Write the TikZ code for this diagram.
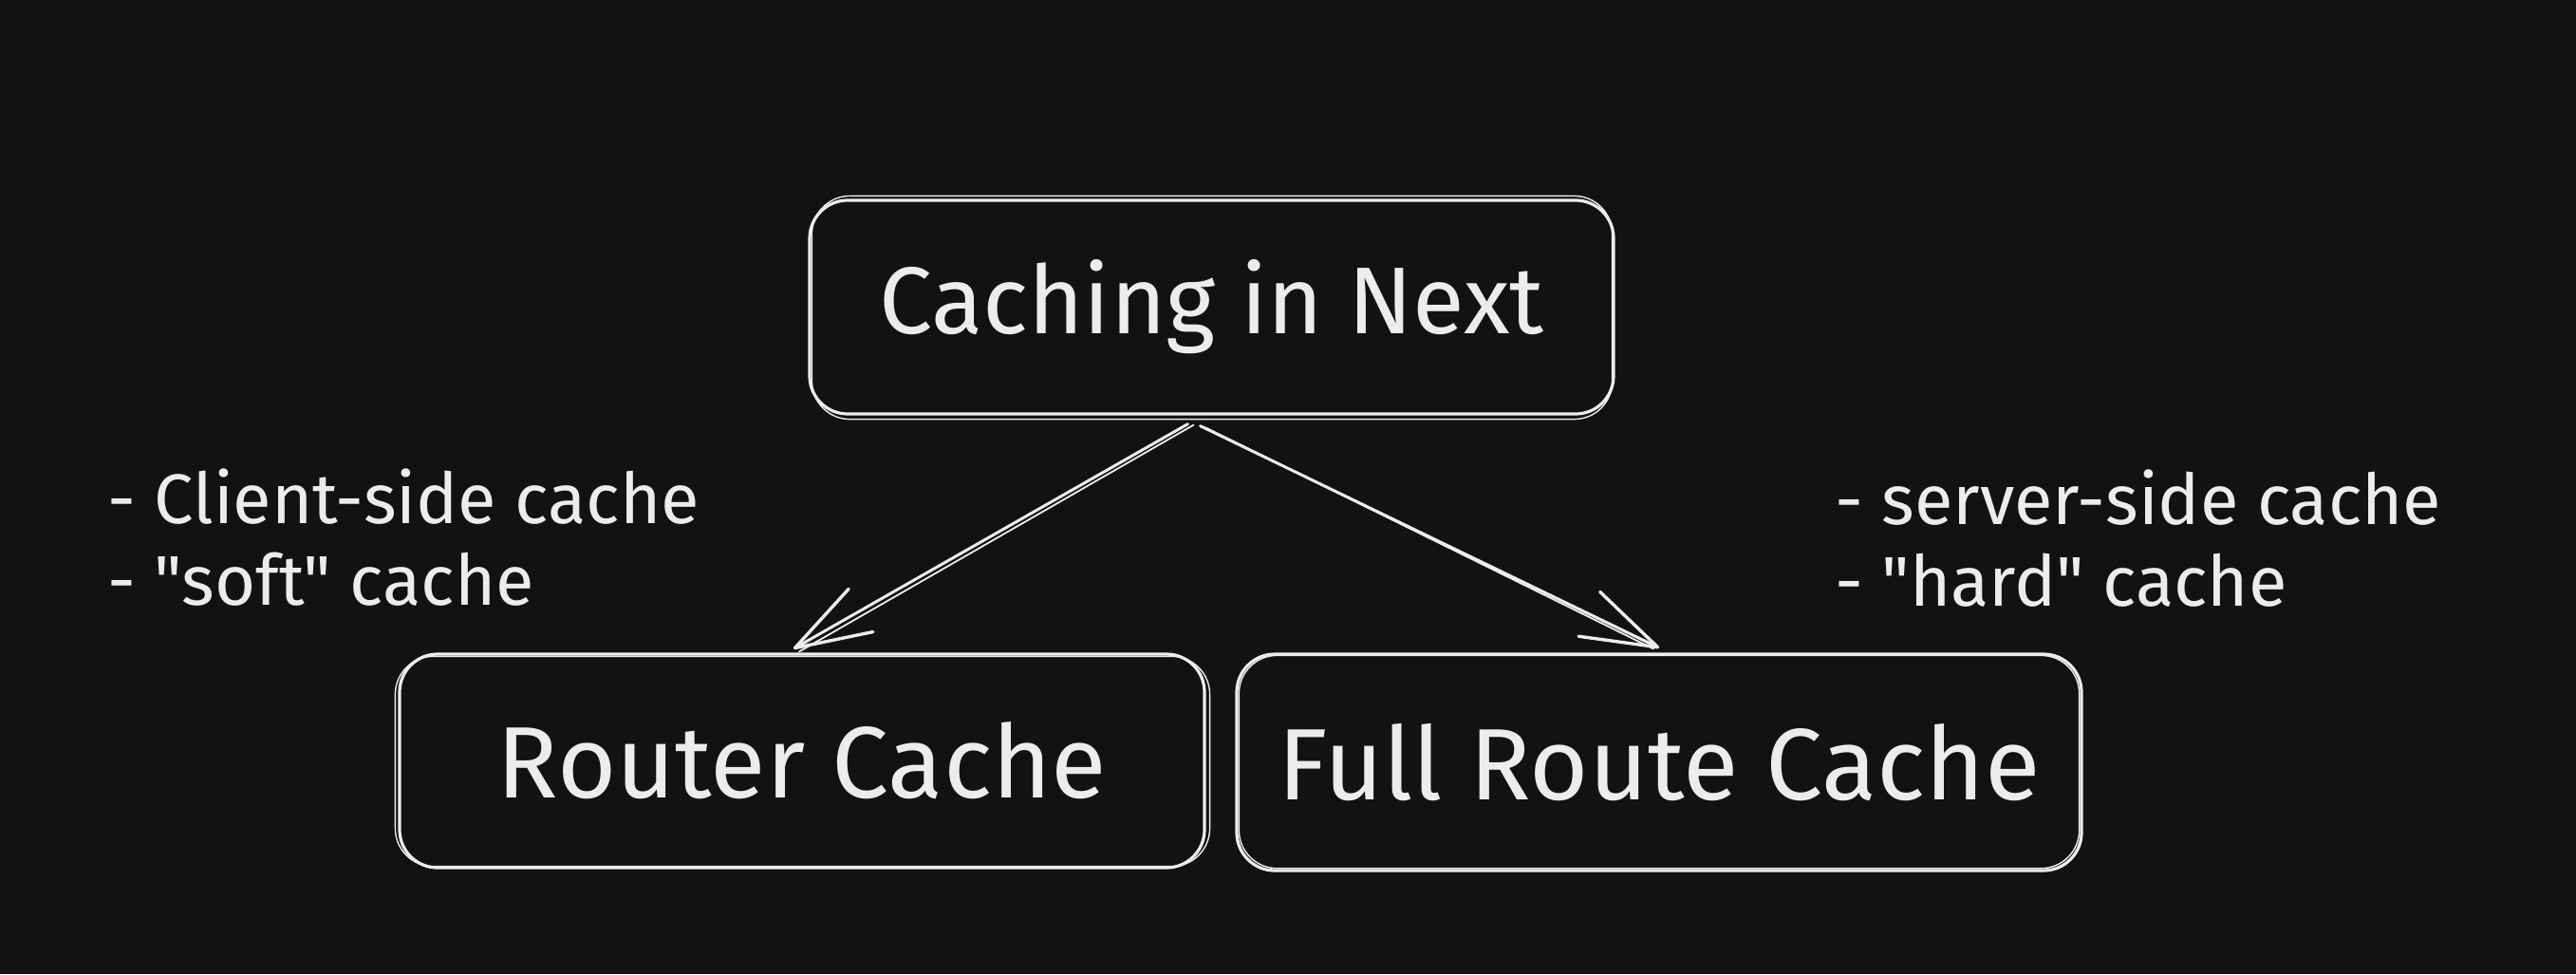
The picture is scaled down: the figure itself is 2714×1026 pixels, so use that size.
\documentclass[tikz,border=0pt]{standalone}
\usepackage{fontspec}
\setmainfont{Fira Sans}[Ligatures=TeXOff]
\usetikzlibrary{arrows.meta,calc}
\definecolor{bgc}{HTML}{121212}
\definecolor{ink}{HTML}{ECECEC}
\begin{document}
\begin{tikzpicture}[x=1pt,y=-1pt,
  box/.style={draw=ink,line width=3.2pt,rounded corners=40pt,text=ink,align=center,inner sep=0pt},
  sketch/.style={draw=ink,line width=1.4pt,rounded corners=40pt},
  sidenote/.style={text=ink,anchor=west,align=left,inner sep=0pt,font=\fontsize{74}{86}\selectfont},
  link/.style={draw=ink,line width=3pt,line cap=round,-{Straight Barb[length=80pt,width=52pt,line width=3.4pt,round]}},
  linkb/.style={draw=ink,line width=1.8pt,line cap=round}
]
\fill[bgc] (0,0) rectangle (2714,1026);
\useasboundingbox (0,0) rectangle (2714,1026);

\node[box,minimum width=847pt,minimum height=225pt,font=\fontsize{100}{110}\selectfont] (top) at (1276.5,323.5) {Caching in Next};
\node[box,minimum width=848pt,minimum height=225pt,font=\fontsize{107}{110}\selectfont] (router) at (845,801.5) {Router Cache};
\node[box,minimum width=890pt,minimum height=228pt,font=\fontsize{107}{110}\selectfont] (full) at (1748,803) {Full Route Cache};

% sketchy second strokes
\draw[sketch] ([xshift=4pt,yshift=3pt]top.north west) rectangle ([xshift=-3pt,yshift=-4pt]top.south east);
\draw[sketch] ([xshift=-3pt,yshift=-4pt]router.north west) rectangle ([xshift=4pt,yshift=3pt]router.south east);
\draw[sketch] ([xshift=4pt,yshift=-3pt]full.north west) rectangle ([xshift=-4pt,yshift=4pt]full.south east);

\node[sidenote] (leftnote) at (113,566) {- Client-side cache\\- "soft" cache};
\node[sidenote] (rightnote) at (1933,567) {- server-side cache\\- "hard" cache};

\coordinate (ls) at ([xshift=-25pt,yshift=-9pt]top.south);
\coordinate (rs) at ([xshift=-12pt,yshift=-11pt]top.south);
\coordinate (le) at ([xshift=-9pt,yshift=4pt]router.north);
\coordinate (re) at ([xshift=0pt,yshift=5pt]full.north);
\draw[link] (ls) -- (le);
\draw[link] (rs) -- (re);
\draw[linkb] ([xshift=6pt,yshift=-1pt]ls) -- ([xshift=6pt,yshift=-3pt]le);
\draw[linkb] ([xshift=6pt,yshift=-2pt]rs) -- ([xshift=-6pt,yshift=-1pt]re);
\end{tikzpicture}
\end{document}
